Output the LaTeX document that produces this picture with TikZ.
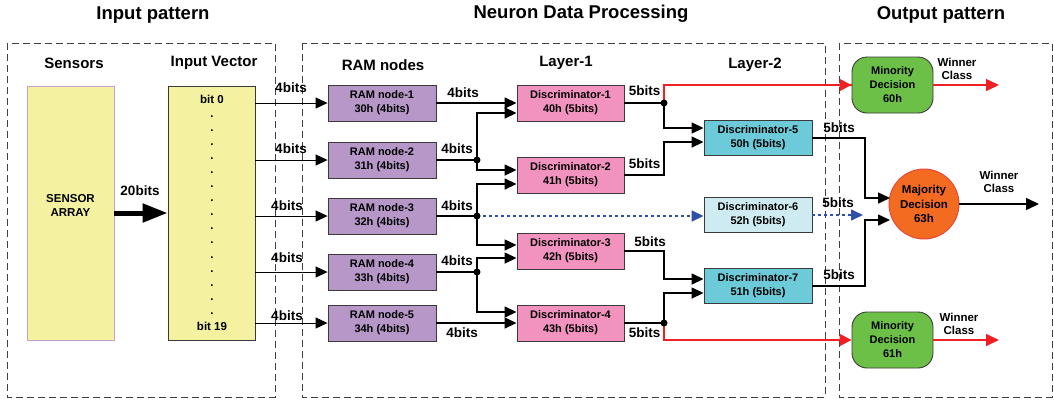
\documentclass[tikz,border=0pt]{standalone}
\usepackage{fontspec}
\setmainfont{Liberation Sans}
\usetikzlibrary{arrows.meta,calc}
\definecolor{boxc}{HTML}{3A3A3A}
\definecolor{sensc}{HTML}{F4F1A0}
\definecolor{sensb}{HTML}{C9A0C9}
\definecolor{ramc}{HTML}{B697C8}
\definecolor{discc}{HTML}{F293BF}
\definecolor{cyanc}{HTML}{6DCAD8}
\definecolor{lcyanc}{HTML}{CEEBF1}
\definecolor{greenc}{HTML}{6CBF47}
\definecolor{orangec}{HTML}{F26B21}
\definecolor{orangeb}{HTML}{E8423A}
\definecolor{redc}{HTML}{EE2024}
\definecolor{bluec}{HTML}{2F4FA8}
\definecolor{dashc}{HTML}{404040}
\begin{document}
\begin{tikzpicture}[x=1pt,y=-1pt,
  title/.style={font=\bfseries\fontsize{18.5}{22}\selectfont},
  head/.style={font=\bfseries\fontsize{15}{18}\selectfont},
  lab/.style={font=\bfseries\fontsize{13.5}{16}\selectfont, inner sep=0pt},
  small/.style={font=\bfseries\fontsize{11.5}{13.5}\selectfont, align=center, inner sep=0pt},
  box/.style={draw=boxc, line width=0.9pt, font=\bfseries\fontsize{11}{14}\selectfont, align=center, inner sep=0pt},
  ram/.style={box, fill=ramc, minimum width=108pt, minimum height=36pt},
  disc/.style={box, fill=discc, minimum width=107pt, minimum height=36pt},
  discb/.style={box, fill=cyanc, minimum width=108pt, minimum height=35pt},
  discl/.style={box, fill=lcyanc, minimum width=108pt, minimum height=35pt},
  minor/.style={box, fill=greenc, rounded corners=15pt, minimum width=81pt, minimum height=56pt},
  major/.style={box, circle, fill=orangec, draw=orangeb, minimum size=70pt, font=\bfseries\fontsize{11.5}{14.5}\selectfont},
  dashbox/.style={draw=dashc, line width=1pt, dash pattern=on 7pt off 4pt},
  ln/.style={line width=1.5pt, black},
  thin/.style={line width=1pt, black},
  arr/.style={-{Triangle[length=12pt,width=11pt]}},
  redln/.style={line width=1.6pt, redc},
  bluedot/.style={line width=1.6pt, bluec, dash pattern=on 3pt off 3pt},
  dot/.style={circle, fill=black, inner sep=0pt, minimum size=7pt}
]
\useasboundingbox (0,0) rectangle (1054,400);

% titles
\node[title] (t1) at (153,15) {Input pattern};
\node[title] (t2) at (581,14) {Neuron Data Processing};
\node[title] (t3) at (941,15) {Output pattern};

% dashed regions
\draw[dashbox] (7,43) rectangle (275,397);
\draw[dashbox] (302,43) rectangle (825,397);
\draw[dashbox] (839,43) rectangle (1052,397);

% headers
\node[head] (h1) at (74,63) {Sensors};
\node[head] (h2) at (214,63) {Input Vector};
\node[head] (h3) at (383,65) {RAM nodes};
\node[head] (h4) at (566,63) {Layer-1};
\node[head] (h5) at (755,65) {Layer-2};

% sensor array and input vector
\node[box, fill=sensc, draw=sensb, minimum width=87pt, minimum height=254pt] (sa) at (70.5,213) {};
\node[font=\bfseries\fontsize{11.5}{14}\selectfont, align=center] (sat) at (70.5,205) {SENSOR\\ARRAY};
\node[box, fill=sensc, minimum width=87pt, minimum height=254pt] (iv) at (211.5,213) {};
\node[small] (b0) at (212,99) {bit 0};
\node[small] (b19) at (212,326) {bit 19};
\foreach \k in {0,...,14}{
  \node[small, anchor=base] (vd\k) at (212,{117+14.1*\k}) {.};
}
\draw[line width=5pt, -{Triangle[length=25pt,width=18pt]}] (sa.east |- iv.west) -- (iv.west);
\node[lab] (l20) at (140,191) {20bits};

% RAM nodes
\node[ram] (r1) at (382,103) {RAM node-1\\30h (4bits)};
\node[ram] (r2) at (382,160) {RAM node-2\\31h (4bits)};
\node[ram] (r3) at (382,216) {RAM node-3\\32h (4bits)};
\node[ram] (r4) at (382,272) {RAM node-4\\33h (4bits)};
\node[ram] (r5) at (382,323) {RAM node-5\\34h (4bits)};

% input lines
\foreach \r in {r1,r2,r3,r4,r5}{
  \draw[thin, arr] (iv.east |- \r.west) -- (\r.west);
}
\node[lab] (i1) at (291,88) {4bits};
\node[lab] (i2) at (291,149) {4bits};
\node[lab] (i3) at (287,206) {4bits};
\node[lab] (i4) at (287,258) {4bits};
\node[lab] (i5) at (287,316) {4bits};

% Layer-1
\node[disc] (d1) at (570.5,103) {Discriminator-1\\40h (5bits)};
\node[disc] (d2) at (570.5,175) {Discriminator-2\\41h (5bits)};
\node[disc] (d3) at (570.5,251) {Discriminator-3\\42h (5bits)};
\node[disc] (d4) at (570.5,323) {Discriminator-4\\43h (5bits)};

% Layer-2
\node[discb] (d5) at (758,138) {Discriminator-5\\50h (5bits)};
\node[discl] (d6) at (758,215) {Discriminator-6\\52h (5bits)};
\node[discb] (d7) at (758,286) {Discriminator-7\\51h (5bits)};

% output nodes
\node[minor] (m60) at (892.5,85) {Minority\\Decision\\60h};
\node[minor] (m61) at (892.5,340) {Minority\\Decision\\61h};
\node[major] (maj) at (924,204) {Majority\\Decision\\63h};

% junctions
\coordinate (j2) at (477,160);
\coordinate (j3) at (477,216);
\coordinate (j4) at (477,272);
\coordinate (k1) at (664,103);
\coordinate (k4) at (664,323);

% RAM -> Layer-1
\draw[ln, arr] (r1.east) -- (d1.west);
\draw[ln] (r2.east) -- (j2);
\draw[ln, arr] (j2) |- ($(d1.west)+(0,10)$);
\draw[ln, arr] (j2) |- ($(d2.west)+(0,-5)$);
\draw[ln] (r3.east) -- (j3);
\draw[ln, arr] (j3) |- ($(d2.west)+(0,9)$);
\draw[ln, arr] (j3) |- ($(d3.west)+(0,-6)$);
\draw[ln] (r4.east) -- (j4);
\draw[ln, arr] (j4) |- ($(d3.west)+(0,7)$);
\draw[ln, arr] (j4) |- ($(d4.west)+(0,-11)$);
\draw[ln, arr] (r5.east) -- (d4.west);
\draw[bluedot, -{Triangle[length=12pt,width=11pt]}] (j3) -- (d6.west |- j3);
\node[dot] (dj2) at (j2) {};
\node[dot] (dj3) at (j3) {};
\node[dot] (dj4) at (j4) {};

\node[lab] (o1) at (463,93) {4bits};
\node[lab] (o2) at (457,149) {4bits};
\node[lab] (o3) at (457,206) {4bits};
\node[lab] (o4) at (457,261) {4bits};
\node[lab] (o5) at (462,333) {4bits};

% Layer-1 -> Layer-2
\draw[ln] (d1.east) -- (k1);
\draw[redln] (k1) |- (m60.west);
\draw[redln, -{Triangle[length=12pt,width=12pt]}] (k1 |- m60.west) -- (m60.west);
\draw[ln, arr] (k1) |- ($(d5.west)+(0,-10)$);
\draw[ln, arr] (d2.east) -| (664,142) -- ($(d5.west)+(0,4)$);
\draw[ln, arr] (d3.east) -| (664,279) -- ($(d7.west)+(0,-7)$);
\draw[ln] (d4.east) -- (k4);
\draw[ln, arr] (k4) |- ($(d7.west)+(0,7)$);
\draw[redln, -{Triangle[length=12pt,width=12pt]}] (k4) |- (m61.west);
\node[dot] (dk1) at (k1) {};
\node[dot] (dk4) at (k4) {};

\node[lab] (p1) at (644.5,91) {5bits};
\node[lab] (p2) at (644.5,164) {5bits};
\node[lab] (p3) at (650,242) {5bits};
\node[lab] (p4) at (644.5,333) {5bits};

% Layer-2 -> Majority
\coordinate (mu) at ($(maj.center)+(-34,-6)$);
\coordinate (ml) at ($(maj.center)+(-34,16)$);
\coordinate (m6) at (863,215);
\draw[ln, arr] (d5.east) -| (865,198) -- (mu);
\draw[ln, arr] (d7.east) -| (865,220) -- (ml);
\draw[bluedot, -{Triangle[length=12pt,width=11pt]}] (d6.east) -- (m6);
\node[lab] (q1) at (839,128) {5bits};
\node[lab] (q2) at (838,203) {5bits};
\node[lab] (q3) at (839,275) {5bits};

% outputs
\coordinate (w60) at (999,85);
\coordinate (w61) at (999,340);
\coordinate (wmaj) at (1039,204);
\draw[redln, -{Triangle[length=13pt,width=12pt]}] (m60.east) -- (w60);
\draw[redln, -{Triangle[length=13pt,width=12pt]}] (m61.east) -- (w61);
\draw[ln, -{Triangle[length=13pt,width=12pt]}] (maj.east) -- (wmaj);
\node[small] (wc1) at (957,69) {Winner\\Class};
\node[small] (wc2) at (999,182) {Winner\\Class};
\node[small] (wc3) at (959,324) {Winner\\Class};
\end{tikzpicture}
\end{document}
